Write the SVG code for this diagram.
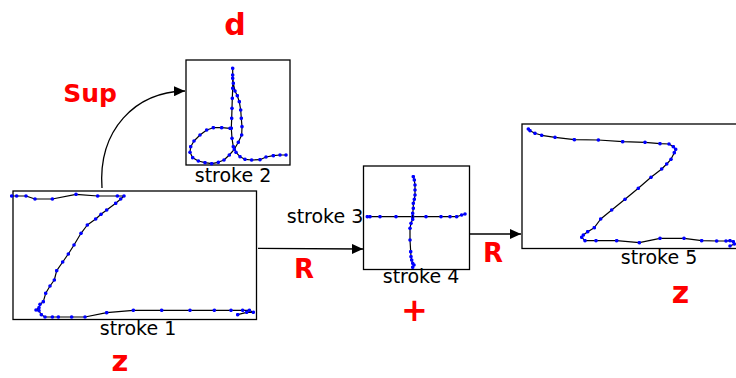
<svg xmlns="http://www.w3.org/2000/svg" width="736" height="378" viewBox="0 0 736 378">
<style>
.box{fill:#fff;stroke:#000;stroke-width:1.3}
.ink{fill:none;stroke:#000;stroke-width:1.2;stroke-linejoin:round;marker-start:url(#dot);marker-mid:url(#dot);marker-end:url(#dot)}
.lbl{font-family:"DejaVu Sans",Verdana,sans-serif;font-size:19px;fill:#000;text-anchor:middle}
.red{font-family:"DejaVu Sans","Liberation Sans",sans-serif;font-weight:bold;fill:#ff0000;text-anchor:middle}
.conn{fill:none;stroke:#000;stroke-width:1.3}
</style>
<defs>
<marker id="dot" markerWidth="4" markerHeight="4" refX="2" refY="2" markerUnits="userSpaceOnUse"><circle cx="2" cy="2" r="1.8" fill="#0000ff"/></marker>
<marker id="arrow" markerWidth="12" markerHeight="10" refX="11" refY="5" markerUnits="userSpaceOnUse" orient="auto"><path d="M0,0 L11,5 L0,10 Z" fill="#000"/></marker>
</defs>
<rect width="736" height="378" fill="#fff"/>

<g id="connectors">
<path class="conn" d="M102,188 C98,130 135,92 185,91" marker-end="url(#arrow)"/>
<path class="conn" d="M258,248.3 L363,249" marker-end="url(#arrow)"/>
<path class="conn" d="M470,234 L521,234" marker-end="url(#arrow)"/>
</g>

<g id="stroke1">
<rect class="box" x="13" y="191" width="243.5" height="128.5"/>
<polyline class="ink" points="11.7,196 16.7,196 26,196 35,199 52.3,199 76,194.3 97.7,196 117.3,196 124,196 120.7,199 115.7,203.3 106.7,210 101,214.3 95.7,219 87.3,225 81,233.3 74,245 68.3,254 62.7,262 56.7,270.7 54.3,280 50,286 45.7,293.3 43.3,301.7 40,304.3 39,307.7 36,310 39,310.7 41.3,314.7 45,317 52.3,317 58.3,317 71.7,317 85,317 106.7,312.7 133.3,310.3 161.7,310.3 190,310.3 214.3,310.3 231,310.3 242.7,310.3 249.3,310.3 253.3,312.3 246.7,312.3 237.7,314.7"/>
<text class="lbl" x="138" y="335">stroke 1</text>
</g>

<g id="stroke2">
<rect class="box" x="186" y="60" width="104" height="105"/>
<polyline class="ink" points="230,128.3 221.7,127.7 213.3,127.7 206.7,130 200,135 194,141 190.7,146.7 190,152.3 192.7,157.7 198.3,161 205,162.7 211.7,163.7 218.3,162.3 224,160 229.3,155 234.3,149.3 238.3,142.3 241.7,135 242,126.7 241.3,118.3 240.7,110 239.3,101.7 237.3,95.7 235,91 233.3,83.3 232.7,75 232.7,68.3 232.7,78.3 232.7,88.3 232.3,98.3 232,108.3 231.7,118.3 231.3,128.3 232,138.3 233.3,146.7 236,152.3 240,156.7 245,159.3 251.7,160 260,159.7 266,157 273.3,155.7 280,155 286,155"/>
<text class="lbl" x="233" y="182">stroke 2</text>
</g>

<g id="stroke34">
<rect class="box" x="363.5" y="166" width="106" height="103.5"/>
<polyline class="ink" points="367.3,216.7 370,216.7 380,216.7 396,216.7 412.7,216.7 426,216.7 441,216.7 450,216.7 456.7,216.7 461.7,215 465,214"/>
<polyline class="ink" points="413.3,176.7 414.3,180 415,185 415,190 415,195 414.3,199.3 413.3,203.3 413.3,208.3 412.7,213.3 412.7,219.3 411,223.3 410,228.3 410,240 410.7,251.7 411,256.7 411.7,260 412.7,263.3 414,265 412.7,267.3"/>
<text class="lbl" x="325" y="223">stroke 3</text>
<text class="lbl" x="421" y="282.5">stroke 4</text>
</g>

<g id="stroke5">
<rect class="box" x="522" y="124" width="230" height="124.5"/>
<polyline class="ink" points="528.3,129 530,130.7 535,133.3 541.7,135.3 555,137.3 574.3,139.7 598.3,140 622.7,141.7 645,142.3 660,143.7 669,144 673.3,146.7 675.7,149.3 674.3,152.7 671,159.3 666.7,164 661.7,169 651,177.3 638.3,188.3 625,199.3 611.7,210 600.7,219 594.3,227.7 587.7,231.7 583.3,235 581.7,237.3 585,240.7 596,240.7 616.7,240.7 639.3,242.7 660,238.3 684,238.3 701.7,240.7 716.7,241 726,241 730,240.7 733.3,241.7 734.3,244 730,246"/>
<text class="lbl" x="659" y="264">stroke 5</text>
</g>

<g id="labels">
<text class="red" x="235" y="35" font-size="30">d</text>
<text class="red" x="90" y="102" font-size="25">Sup</text>
<text class="red" x="304" y="278" font-size="26">R</text>
<text class="red" x="493" y="261.5" font-size="26">R</text>
<text class="red" x="414.5" y="321" font-size="32">+</text>
<text class="red" x="680.5" y="302.5" font-size="30">z</text>
<text class="red" x="120" y="371" font-size="29">z</text>
</g>
</svg>
